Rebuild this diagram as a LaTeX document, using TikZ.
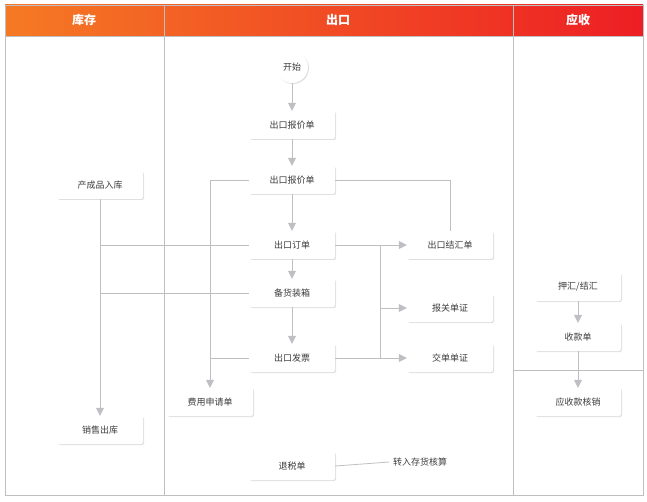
\documentclass[tikz,border=0pt]{standalone}
\usepackage{fontspec}
\setmainfont{Noto Sans CJK SC}
\usetikzlibrary{arrows.meta,positioning,shadows}
\definecolor{headorange}{RGB}{245,122,36}
\definecolor{headred}{RGB}{237,30,36}
\definecolor{linegray}{RGB}{190,190,195}
\definecolor{textgray}{RGB}{60,60,60}

\tikzset{
  procbox/.style={draw=none, fill=white, rounded corners=2pt, minimum width=86pt, minimum height=28pt,
    font=\small, text=textgray, drop shadow={shadow xshift=1pt, shadow yshift=-1pt, opacity=.25}},
  flow/.style={draw=linegray, thick, -{Triangle[width=8pt,length=8pt]}},
  link/.style={draw=linegray, thick},
}

\begin{document}
\begin{tikzpicture}[x=1pt,y=-1pt]
    \useasboundingbox (0,0) rectangle (647,502);
    % lanes
    \shade[left color=headorange, right color=headred] (5,5) rectangle (643,36);
    \draw[linegray] (5,5) rectangle (643,495);
    \draw[linegray] (5,36) -- (643,36);
    \draw[linegray] (164,5) -- (164,495);
    \draw[linegray] (513,5) -- (513,495);
    \draw[linegray] (513,370) -- (643,370);
    \node[text=white, font=\large\bfseries] (lane1) at (84,20) {库存};
    \node[text=white, font=\large\bfseries] (lane2) at (338,20) {出口};
    \node[text=white, font=\large\bfseries] (lane3) at (578,20) {应收};

    % export lane
    \node[circle, fill=white, minimum size=32pt, inner sep=0pt, font=\small, text=textgray,
      drop shadow={shadow xshift=1pt, shadow yshift=-1pt, opacity=.25}] (start) at (292,67) {开始};
    \node[procbox] (quote1) at (292,125) {出口报价单};
    \node[procbox] (quote2) at (292,180) {出口报价单};
    \node[procbox] (order) at (292,245) {出口订单};
    \node[procbox] (pack) at (292,293) {备货装箱};
    \node[procbox] (invoice) at (292,358) {出口发票};
    \node[procbox] (refund) at (292,466) {退税单};
    \node[procbox] (fee) at (210,402) {费用申请单};
    \node[procbox] (settle) at (450,245) {出口结汇单};
    \node[procbox] (customs) at (450,308) {报关单证};
    \node[procbox] (docs) at (450,358) {交单单证};
    \node[font=\small, text=textgray] (stock) at (420,462) {转入存货核算};

    % stock lane
    \node[procbox] (instore) at (100,185) {产成品入库};
    \node[procbox] (outstore) at (100,430) {销售出库};

    % receivable lane
    \node[procbox] (nego) at (578,287) {押汇/结汇};
    \node[procbox] (receipt) at (578,337) {收款单};
    \node[procbox] (verify) at (578,402) {应收款核销};

    % connectors
    \draw[flow] (start) -- (quote1);
    \draw[flow] (quote1) -- (quote2);
    \draw[flow] (quote2) -- (order);
    \draw[flow] (order) -- (pack);
    \draw[flow] (pack) -- (invoice);
    \draw[flow] (quote2.west) -| (fee.north);
    \draw[link] (invoice.west) -- (fee.north |- invoice.west);
    \draw[link] (quote2.east) -| (settle.north);
    \coordinate (split) at (380,245);
    \draw[link] (order.east) -- (split);
    \draw[link] (split) -- (split |- invoice.east);
    \draw[link] (invoice.east) -- (split |- invoice.east);
    \draw[flow] (split) -- (settle.west);
    \draw[flow] (split |- customs.west) -- (customs.west);
    \draw[flow] (split |- docs.west) -- (docs.west);
    \draw[link] (refund.east) -- (stock.west);
    \draw[flow] (instore) -- (outstore);
    \draw[link] (instore.south |- order.west) -- (order.west);
    \draw[link] (instore.south |- pack.west) -- (pack.west);
    \draw[flow] (nego) -- (receipt);
    \draw[flow] (receipt) -- (verify);
\end{tikzpicture}
\end{document}
